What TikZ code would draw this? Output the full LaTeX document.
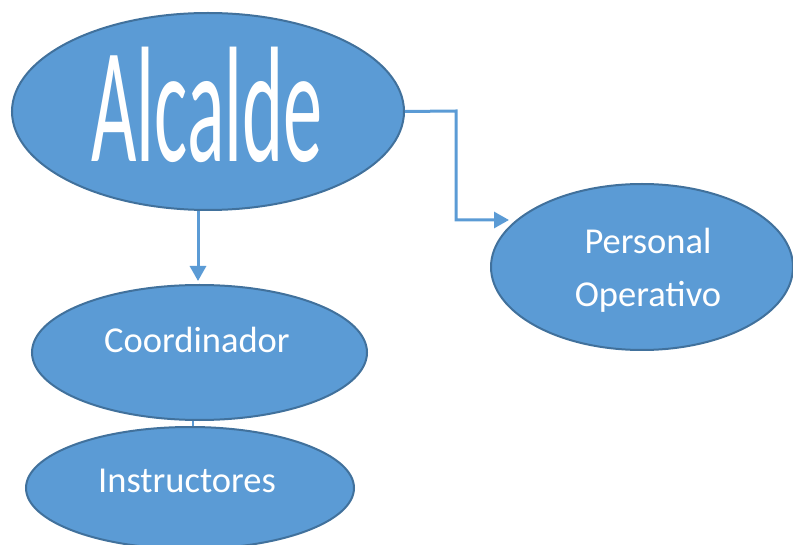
\documentclass[tikz,border=0pt]{standalone}
\usepackage{fontspec}
\setmainfont{Carlito}
\usetikzlibrary{shapes.geometric,arrows.meta,calc}
\definecolor{fillblue}{HTML}{5B9BD5}
\definecolor{edgeblue}{HTML}{41719C}
\newcommand{\zbox}[3]{\raisebox{#2}[0pt][0pt]{\makebox[0pt]{\hspace*{#1}#3}}}
\begin{document}
\begin{tikzpicture}[x=1pt,y=-1pt,
  oval/.style={ellipse,draw=edgeblue,line width=2pt,fill=fillblue,inner sep=0pt,text=white,align=center,font=\fontsize{36.5}{44}\selectfont},
  conn/.style={draw=fillblue,line width=3pt},
  arr/.style={conn,-{Triangle[length=15pt,width=16pt]}}]
\useasboundingbox (0,0) rectangle (793,545);
\node[oval,minimum width=392pt,minimum height=197pt] (A) at (208,111.5) {\zbox{-2pt}{-50pt}{\scalebox{0.49}[1.03]{\fontsize{160}{160}\selectfont Alcalde}}};
\node[oval,minimum width=302pt,minimum height=166pt] (P) at (642,267) {\zbox{12pt}{13pt}{Personal}\zbox{12pt}{-40pt}{Operativo}};
\node[oval,minimum width=335pt,minimum height=135pt] (C) at (199.5,352.5) {\zbox{-5pt}{0pt}{Coordinador}};
\node[oval,minimum width=328pt,minimum height=122pt] (I) at (190,488) {\zbox{-6pt}{-4pt}{Instructores}};
\coordinate (ptip) at (509,220);
\draw[arr] (A.east) -- (456,111) |- (ptip);
\draw[arr,shorten >=3pt] (A.south -| 198,0) -- (C.north -| 198,0);
\draw[conn,line width=2.5pt] (C.south -| 193,0) -- (I.north -| 193,0);
\end{tikzpicture}
\end{document}
